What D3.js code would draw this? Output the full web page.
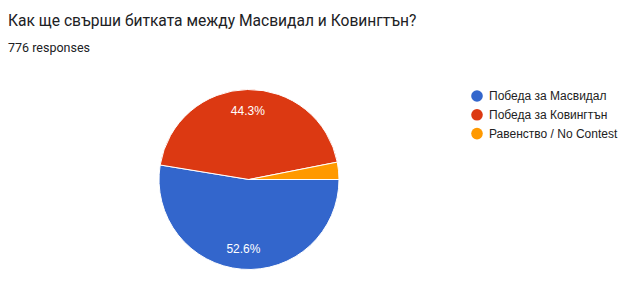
<!DOCTYPE html>
<html lang="bg">
<head>
<meta charset="UTF-8">
<title>Pie</title>
<script src="https://d3js.org/d3.v7.min.js"></script>
<style>
  body { margin: 0; background: #fff; }
  .head { font-family: Roboto, Arial, sans-serif; }
  .chart text { font-family: Arial, "Liberation Sans", sans-serif; }
</style>
</head>
<body>
<script>
    // data (776 responses)
    var categories = ["Победа за Масвидал", "Победа за Ковингтън", "Равенство / No Contest"];
    var counts = [408, 344, 24];
    var colors = ["#3366cc", "#dc3912", "#ff9900"];
    var title = "Как ще свърши битката между Масвидал и Ковингтън?";
    var subtitle = "776 responses";

    var width = 642, height = 287;
    var cx = 249, cy = 179.5, radius = 90;

    var svg = d3.select("body").append("svg")
        .attr("width", width)
        .attr("height", height);

    svg.append("text").attr("class", "head")
        .attr("x", 8).attr("y", 26)
        .attr("font-size", 15.6)
        .attr("fill", "#202124")
        .text(title);

    svg.append("text").attr("class", "head")
        .attr("x", 8).attr("y", 51.5)
        .attr("font-size", 12.5)
        .attr("fill", "#202124")
        .text(subtitle);

    var total = d3.sum(counts);
    var data = categories.map(function (c, i) { return { name: c, value: counts[i], color: colors[i] }; });

    var chart = svg.append("g").attr("class", "chart");

    // google charts start at 3 o'clock, clockwise
    var pie = d3.pie().value(function (d) { return d.value; }).sort(null)
        .startAngle(Math.PI / 2).endAngle(Math.PI / 2 + 2 * Math.PI);
    var arc = d3.arc().innerRadius(0).outerRadius(radius);
    var labelArc = d3.arc().innerRadius(radius * 0.77).outerRadius(radius * 0.77);

    var g = chart.append("g").attr("transform", "translate(" + cx + "," + cy + ")");
    var slices = g.selectAll("g.slice").data(pie(data)).enter().append("g").attr("class", "slice");
    slices.append("path")
        .attr("d", arc)
        .attr("fill", function (d) { return d.data.color; })
        .attr("stroke", "#fff")
        .attr("stroke-width", 1);
    slices.filter(function (d) { return d.data.value / total > 0.05; })
        .append("text")
        .attr("transform", function (d) { return "translate(" + labelArc.centroid(d) + ")"; })
        .attr("text-anchor", "middle")
        .attr("dy", "0.36em")
        .attr("font-size", 12)
        .attr("fill", "#fff")
        .text(function (d) { return (d.data.value / total * 100).toFixed(1) + "%"; });

    var legend = chart.append("g").attr("transform", "translate(477,96)");
    var rows = legend.selectAll("g").data(data).enter().append("g")
        .attr("transform", function (d, i) { return "translate(0," + (i * 18.8) + ")"; });
    rows.append("circle").attr("r", 5.8).attr("fill", function (d) { return d.color; });
    rows.append("text")
        .attr("x", 12).attr("dy", "0.36em")
        .attr("font-size", 12)
        .attr("fill", "#222")
        .text(function (d) { return d.name; });
</script>
</body>
</html>
